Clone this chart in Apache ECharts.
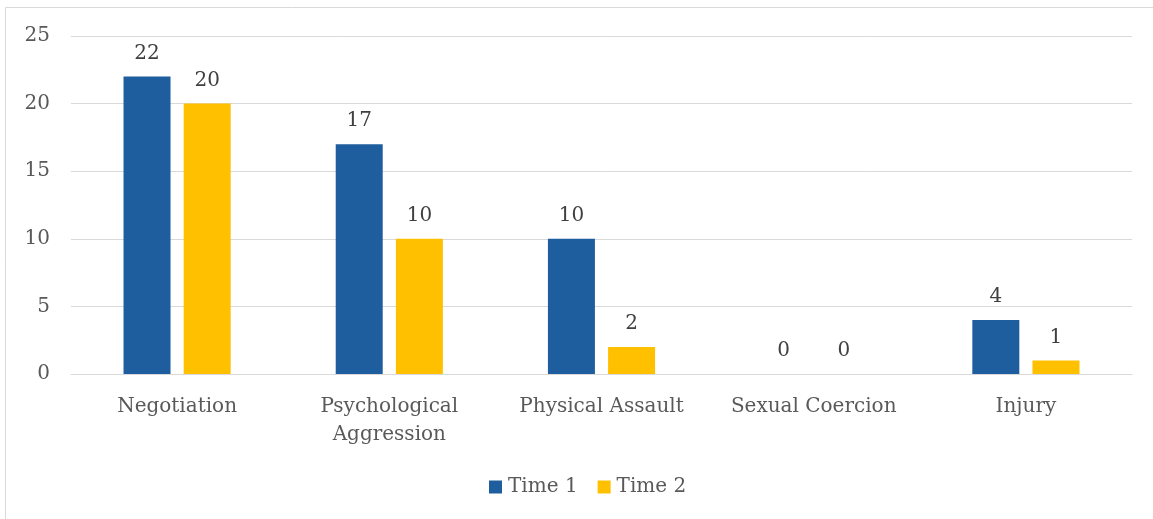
<!DOCTYPE html>
<html>
<head>
<meta charset="utf-8">
<script src="https://cdn.jsdelivr.net/npm/echarts@6/dist/echarts.min.js"></script>
<style>
  html, body { margin: 0; padding: 0; background: #fff; }
  #chart { width: 1153px; height: 519px; }
</style>
</head>
<body>
<div id="chart"></div>
<script>
// Scale outcomes at two time points
const categories = ['Negotiation', 'Psychological\nAggression', 'Physical Assault', 'Sexual Coercion', 'Injury'];
const time1 = [22, 17, 10, 0, 4];
const time2 = [20, 10, 2, 0, 1];
const seriesNames = ['Time 1', 'Time 2'];
const yTicks = { min: 0, max: 25, interval: 5 };

const FONT = 'DejaVu Serif';
const TEXT = '#595959';
const BLUE = '#1f5e9e';
const GOLD = '#ffc000';
const SIZE = 20;

const chart = echarts.init(document.getElementById('chart'), null, { renderer: 'canvas' });

const labelStyle = {
  show: true,
  position: 'top',
  distance: 13,
  color: '#404040',
  fontFamily: FONT,
  fontSize: SIZE
};

chart.setOption({
  animation: false,
  backgroundColor: '#fff',
  graphic: [
    { type: 'line', shape: { x1: 5.5, y1: 7.5, x2: 1153, y2: 7.5 }, style: { stroke: '#d9d9d9', lineWidth: 1 } },
    { type: 'line', shape: { x1: 5.5, y1: 7.5, x2: 5.5, y2: 519 }, style: { stroke: '#d9d9d9', lineWidth: 1 } }
  ],
  grid: { left: 71, right: 21, top: 36, bottom: 145, containLabel: false },
  legend: {
    data: seriesNames,
    bottom: 17,
    left: 484,
    itemWidth: 13,
    itemHeight: 13,
    itemGap: 20,
    icon: 'rect',
    textStyle: { color: TEXT, fontFamily: FONT, fontSize: SIZE, padding: [0, 0, 0, 1] }
  },
  xAxis: {
    type: 'category',
    data: categories,
    axisLine: { show: true, lineStyle: { color: '#d9d9d9', width: 1 } },
    axisTick: { show: false },
    axisLabel: {
      color: TEXT,
      fontFamily: FONT,
      fontSize: SIZE,
      margin: 19,
      lineHeight: 28,
      interval: 0
    }
  },
  yAxis: {
    type: 'value',
    min: yTicks.min,
    max: yTicks.max,
    interval: yTicks.interval,
    axisLine: { show: false },
    axisTick: { show: false },
    splitLine: { lineStyle: { color: '#d9d9d9', width: 1 } },
    axisLabel: { color: TEXT, fontFamily: FONT, fontSize: SIZE, margin: 21 }
  },
  series: [
    {
      name: seriesNames[0],
      type: 'bar',
      data: time1,
      barWidth: 47,
      barGap: '28%',
      itemStyle: { color: BLUE },
      label: labelStyle
    },
    {
      name: seriesNames[1],
      type: 'bar',
      data: time2,
      barWidth: 47,
      barGap: '28%',
      itemStyle: { color: GOLD },
      label: labelStyle
    }
  ]
});
</script>
</body>
</html>
